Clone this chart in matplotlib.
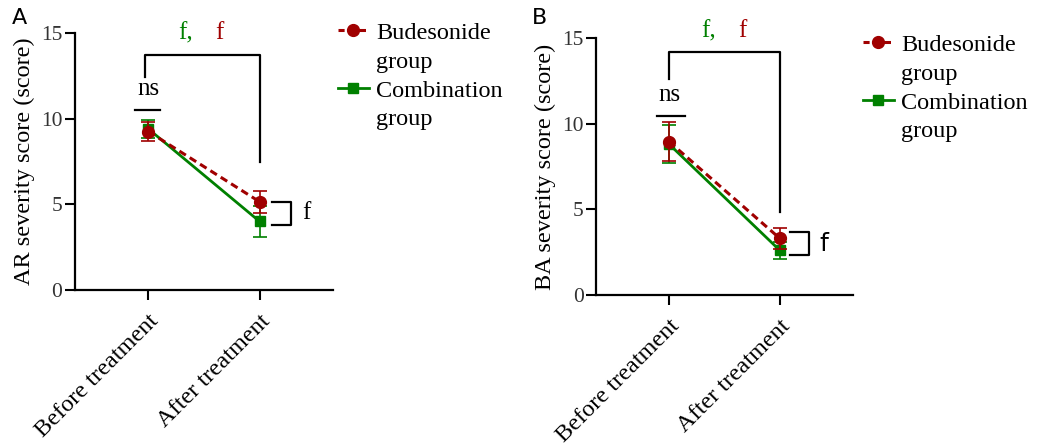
import matplotlib
matplotlib.use("Agg")
import matplotlib.pyplot as plt
from matplotlib.lines import Line2D

plt.rcParams['font.family'] = ['Liberation Serif', 'DejaVu Serif']

# data
categories = ['Before treatment', 'After treatment']

ar_budesonide = [9.25, 5.15]
ar_budesonide_err = [0.55, 0.65]
ar_combination = [9.4, 4.0]
ar_combination_err = [0.5, 0.9]

ba_budesonide = [8.95, 3.3]
ba_budesonide_err = [1.15, 0.6]
ba_combination = [8.8, 2.6]
ba_combination_err = [1.1, 0.5]

RED = '#a00000'
GREEN = '#008000'

fig = plt.figure(figsize=(10.38, 4.45), dpi=100)


def draw_panel(ax, bud, bud_err, comb, comb_err, ylabel, ann):
    x = list(range(len(categories)))
    ax.errorbar(x, comb, yerr=comb_err, color=GREEN, lw=2, marker='s', ms=7.5,
                capsize=5, elinewidth=1.2, capthick=1.2, zorder=3)
    ax.errorbar(x, bud, yerr=bud_err, color=RED, lw=2.2, ls=(0, (2.5, 1.5)),
                marker='o', ms=8.5, capsize=5, elinewidth=1.2, capthick=1.2, zorder=4)

    ax.set_ylim(0, 15)
    ax.set_xlim(-0.66, 1.66)
    ax.set_yticks([0, 5, 10, 15])
    ax.set_xticks(x)
    ax.set_xticklabels(categories, rotation=45, ha='right', va='top',
                       rotation_mode='anchor', fontsize=17.5)
    ax.tick_params(axis='y', labelsize=15.5, labelcolor='#333333', length=7, width=1.5, pad=2)
    ax.tick_params(axis='x', length=7, width=1.5, pad=8)
    ax.spines['top'].set_visible(False)
    ax.spines['right'].set_visible(False)
    for s in ('left', 'bottom'):
        ax.spines[s].set_linewidth(1.6)
    ax.set_ylabel(ylabel, fontsize=17.5, labelpad=4)

    # significance brackets
    k = dict(color='black', lw=1.6, clip_on=False)
    ax.plot([ann['bx0'], ann['bx0'], 1, 1],
            [ann['bl'], ann['btop'], ann['btop'], ann['br']], **k)
    ax.plot(ann['nsx'], [ann['nsy']] * 2, **k)
    ax.text(0.0, ann['nsy'] + 0.6, 'ns', ha='center', va='bottom', fontsize=18)
    sx0, sx1 = ann['sx']
    ax.plot([sx0, sx1, sx1, sx0], [ann['sy'][0], ann['sy'][0], ann['sy'][1], ann['sy'][1]], **k)
    ax.text(ann['fx'], sum(ann['sy']) / 2, 'f', ha='center', va='center',
            fontsize=18, family=ann['ffam'])
    ax.text(ann['gx'], ann['fy'], 'f,', ha='center', va='center', fontsize=18, color=GREEN)
    ax.text(ann['rx'], ann['fy'], 'f', ha='center', va='center', fontsize=18, color=RED)

    handles = [
        Line2D([], [], color=RED, lw=2.2, ls=(0, (2, 1.5)), marker='o', ms=8.5),
        Line2D([], [], lw=0),
        Line2D([], [], color=GREEN, lw=2, marker='s', ms=7.5),
        Line2D([], [], lw=0),
    ]
    ax.legend(handles, ['Budesonide', 'group', 'Combination', 'group'],
              loc='upper left', bbox_to_anchor=ann['leg'], frameon=False,
              fontsize=17.5, handlelength=1.25, handletextpad=0.3,
              labelspacing=0.28, borderaxespad=0, borderpad=0)


axA = fig.add_axes([75 / 1038, 1 - 290 / 445, 258 / 1038, 257 / 445])
draw_panel(axA, ar_budesonide, ar_budesonide_err, ar_combination, ar_combination_err,
           'AR severity score (score)',
           dict(bx0=-0.03, bl=12.45, btop=13.7, br=7.5, nsx=[-0.12, 0.1], nsy=10.5,
                sx=[1.11, 1.28], sy=[5.15, 3.8], fx=1.42, ffam=['Liberation Serif'],
                gx=0.33, rx=0.64, fy=15.0, leg=(1.02, 1.043)))

axB = fig.add_axes([596 / 1038, 1 - 295 / 445, 257 / 1038, 257 / 445])
draw_panel(axB, ba_budesonide, ba_budesonide_err, ba_combination, ba_combination_err,
           'BA severity score (score)',
           dict(bx0=0.0, bl=12.6, btop=14.17, br=4.86, nsx=[-0.11, 0.14], nsy=10.45,
                sx=[1.09, 1.26], sy=[3.66, 2.33], fx=1.4, ffam=['DejaVu Sans'],
                gx=0.36, rx=0.66, fy=15.4, leg=(1.04, 1.016)))

fig.text(12 / 1038, 1 - 18 / 445, 'A', fontsize=16, family=['DejaVu Sans'], va='center')
fig.text(532 / 1038, 1 - 18 / 445, 'B', fontsize=16, family=['DejaVu Sans'], va='center')

fig.savefig('out.png', dpi=100)
